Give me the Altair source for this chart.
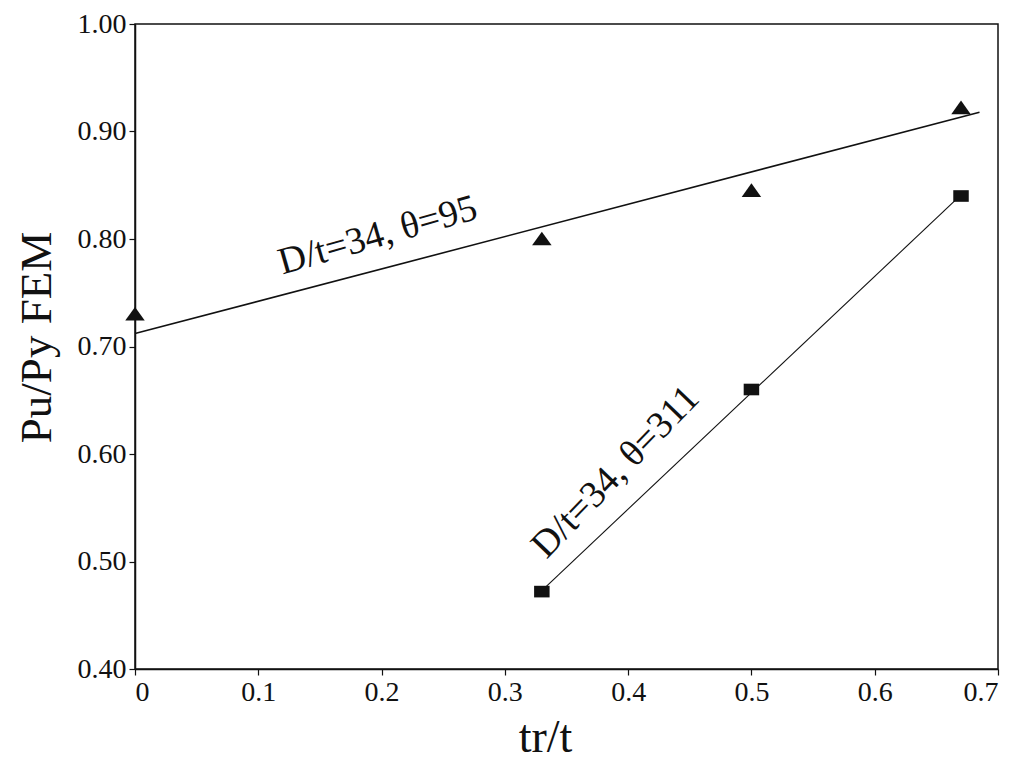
import altair as alt
import pandas as pd

# data
tri_x = [0.0, 0.33, 0.5, 0.67]
tri_y = [0.73, 0.80, 0.845, 0.922]
sq_x = [0.33, 0.5, 0.67]
sq_y = [0.472, 0.66, 0.84]
fit1_x = [0.0, 0.685]
fit1_y = [0.712, 0.918]
fit2_x = [0.33, 0.67]
fit2_y = [0.473, 0.841]
label_text = ["D/t=34, θ=95", "D/t=34, θ=311"]
label_x = [0.197, 0.39]
label_y = [0.803, 0.583]
label_angle = [-16, -46]

x_ticks = [0, 0.1, 0.2, 0.3, 0.4, 0.5, 0.6, 0.7]
y_ticks = [0.40, 0.50, 0.60, 0.70, 0.80, 0.90, 1.00]

FONT = "Liberation Serif"
INK = "#111111"

tri = pd.DataFrame({"x": tri_x, "y": tri_y})
sq = pd.DataFrame({"x": sq_x, "y": sq_y})
f1 = pd.DataFrame({"x": fit1_x, "y": fit1_y})
f2 = pd.DataFrame({"x": fit2_x, "y": fit2_y})

xs = alt.Scale(domain=[0, 0.7], nice=False, zero=False)
ys = alt.Scale(domain=[0.4, 1.0], nice=False, zero=False)

xax = alt.Axis(
    values=x_ticks, grid=False, title="tr/t",
    labelExpr="datum.value == 0 ? '0' : format(datum.value, '.1f')",
    titleFontSize=46, titleX=410, titleY=82, titleBaseline="alphabetic",
)
yax = alt.Axis(
    values=y_ticks, grid=False, title="Pu/Py FEM", format=".2f",
    titleFontSize=45, titleX=-85, titleY=313, titleAlign="center",
    titleBaseline="alphabetic", titleAngle=270,
)

X = alt.X("x:Q", scale=xs, axis=xax)
Y = alt.Y("y:Q", scale=ys, axis=yax)

line1 = alt.Chart(f1).mark_line(color=INK, strokeWidth=1.6).encode(x=X, y=Y)
line2 = alt.Chart(f2).mark_line(color=INK, strokeWidth=1.1).encode(x=X, y=Y)

tri_pts = alt.Chart(tri).mark_point(
    shape="M-1,0.65L1,0.65L0,-0.75Z", filled=True, color=INK, opacity=1, size=380
).encode(x=X, y=Y)
sq_pts = alt.Chart(sq).mark_point(
    shape="M-1,-0.75L1,-0.75L1,0.75L-1,0.75Z", filled=True, color=INK, opacity=1, size=240
).encode(x=X, y=Y)

labels = []
for t, lx, ly, a in zip(label_text, label_x, label_y, label_angle):
    d = pd.DataFrame({"x": [lx], "y": [ly], "t": [t]})
    labels.append(
        alt.Chart(d).mark_text(
            font=FONT, fontSize=38, color=INK, angle=360 + a,
            align="center", baseline="middle",
        ).encode(x=X, y=Y, text="t:N")
    )

chart = alt.layer(line1, line2, tri_pts, sq_pts, *labels).properties(
    width=863, height=645,
    padding={"left": 127, "top": 16, "right": 20, "bottom": 96},
    autosize=alt.AutoSizeParams(type="none"),
    background="white",
).configure_view(
    stroke=INK, strokeWidth=1.5
).configure_axis(
    labelFont=FONT, labelFontSize=28, labelColor=INK, labelPadding=3,
    titleFont=FONT, titleFontWeight="normal", titleColor=INK,
    domainColor=INK, domainWidth=1.5, tickColor=INK, tickSize=6, tickWidth=1.2,
)

chart.save("out.html", embed_options={"renderer": "svg", "actions": False})
